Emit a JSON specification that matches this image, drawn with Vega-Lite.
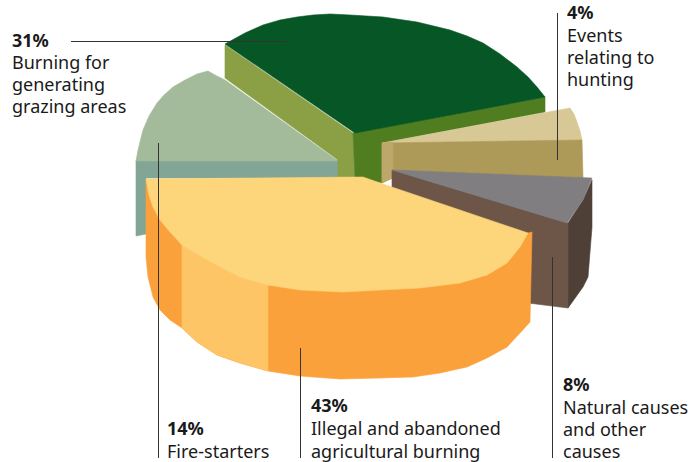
{
  "$schema": "https://vega.github.io/schema/vega-lite/v6.json",
  "width": 690,
  "height": 462,
  "padding": 0,
  "autosize": "none",
  "background": "white",
  "config": {"view": {"stroke": null}},
  "datasets": {
    "faces": [
      {"face":"starters-side","p":[[136,160],[338,160],[338,178],[146,178],[146,234],[136,236]]},
      {"face":"starters-top","p":[[136,161],[138,150],[143,130],[149,116],[157,103],[164,95],[173,87],[185,80],[197,74],[208,71],[215,75],[225,80],[338,161]]},
      {"face":"burning-side-left","p":[[225,45],[353,133],[355,177],[338,177],[338,160],[225,78]]},
      {"face":"burning-side-right","p":[[353,133],[545,97],[545,112],[382,143],[382,183],[355,177]]},
      {"face":"burning-top","p":[[225,44],[245,33],[263,25],[280,20],[297,17],[313,15],[330,14],[350,15],[383,17],[417,22],[450,30],[467,36],[483,43],[500,54],[517,67],[528,77],[537,87],[545,97],[355,133]]},
      {"face":"hunting-top","p":[[382,143],[570,108],[574,114],[577,122],[580,131],[582,140]]},
      {"face":"hunting-side","p":[[382,143],[582,140],[583,178],[392,178],[382,183]]},
      {"face":"hunting-side-edge","p":[[382,143],[393,142],[393,178],[382,183]]},
      {"face":"natural-side-dark","p":[[568,223],[583,200],[592,180],[592,227],[588,277],[583,287],[568,308]]},
      {"face":"natural-side","p":[[392,170],[568,223],[568,308],[528,303],[528,245],[392,195]]},
      {"face":"natural-top","p":[[392,170],[592,178],[583,200],[567,223]]},
      {"face":"illegal-side","p":[[146,180],[146,257],[148,277],[153,297],[160,310],[170,320],[182,328],[197,342],[217,355],[240,363],[268,371],[300,376],[340,379],[380,378],[413,377],[440,373],[467,367],[487,358],[507,347],[520,333],[530,322],[532,232],[528,233],[380,260]]},
      {"face":"illegal-side-light","p":[[182,240],[213,260],[240,275],[268,283],[268,371],[240,363],[217,355],[197,342],[182,328]]},
      {"face":"illegal-top","p":[[146,179],[363,177],[380,183],[528,233],[520,247],[507,263],[487,275],[460,283],[420,288],[380,290],[343,292],[300,290],[268,285],[240,277],[213,263],[197,254],[182,245],[170,232],[160,220],[153,207],[149,195]]}
    ],
    "colours": [
      {"face":"starters-side","fill":"#82a596"},
      {"face":"starters-top","fill":"#a3bb9b"},
      {"face":"burning-side-left","fill":"#8ba045"},
      {"face":"burning-side-right","fill":"#4f7d20"},
      {"face":"burning-top","fill":"#075625"},
      {"face":"hunting-top","fill":"#d8c896"},
      {"face":"hunting-side","fill":"#ae9a58"},
      {"face":"hunting-side-edge","fill":"#bda76a"},
      {"face":"natural-side-dark","fill":"#4e4036"},
      {"face":"natural-side","fill":"#6d5648"},
      {"face":"natural-top","fill":"#807e80"},
      {"face":"illegal-side","fill":"#fba13b"},
      {"face":"illegal-side-light","fill":"#fdc566"},
      {"face":"illegal-top","fill":"#fdd57a"}
    ],
    "leaders": [
      {"cause":"Burning","x":71,"x2":287,"y":41.5,"y2":41.5},
      {"cause":"Hunting","x":557.5,"x2":557.5,"y":13,"y2":160},
      {"cause":"Fire-starters","x":158.5,"x2":158.5,"y":143,"y2":458},
      {"cause":"Illegal","x":300.5,"x2":300.5,"y":348,"y2":458},
      {"cause":"Natural","x":552.5,"x2":552.5,"y":257,"y2":458}
    ],
    "shares": [
      {"share":0.31,"x":12,"y":47},
      {"share":0.04,"x":567,"y":19},
      {"share":0.14,"x":167,"y":435},
      {"share":0.43,"x":311,"y":412},
      {"share":0.08,"x":563,"y":391}
    ],
    "captions": [
      {"text":"Burning for","x":12,"y":69},
      {"text":"generating","x":12,"y":91},
      {"text":"grazing areas","x":12,"y":113},
      {"text":"Events","x":567,"y":42},
      {"text":"relating to","x":567,"y":64},
      {"text":"hunting","x":567,"y":86},
      {"text":"Fire-starters","x":167,"y":458},
      {"text":"Illegal and abandoned","x":311,"y":435},
      {"text":"agricultural burning","x":311,"y":458},
      {"text":"Natural causes","x":563,"y":414},
      {"text":"and other","x":563,"y":436},
      {"text":"causes","x":563,"y":458}
    ]
  },
  "layer": [
    {
      "data": {"name": "faces"},
      "transform": [
        {"flatten": ["p"]},
        {"lookup": "face", "from": {"data": {"name": "colours"}, "key": "face", "fields": ["fill"]}},
        {"window": [{"op": "row_number", "as": "vertex"}], "groupby": ["face"]}
      ],
      "mark": {"type": "line", "interpolate": "linear-closed", "strokeWidth": 0.6},
      "encoding": {
        "x": {"field": "p[0]", "type": "quantitative", "scale": {"domain": [0, 690]}, "axis": null},
        "y": {"field": "p[1]", "type": "quantitative", "scale": {"domain": [462, 0]}, "axis": null},
        "order": {"field": "vertex"},
        "detail": {"field": "face"},
        "fill": {"field": "fill", "type": "nominal", "scale": null},
        "stroke": {"field": "fill", "type": "nominal", "scale": null}
      }
    },
    {
      "data": {"name": "leaders"},
      "mark": {"type": "rule", "color": "#333333", "strokeWidth": 1},
      "encoding": {
        "x": {"field": "x", "type": "quantitative", "scale": {"domain": [0, 690]}, "axis": null},
        "x2": {"field": "x2"},
        "y": {"field": "y", "type": "quantitative", "scale": {"domain": [462, 0]}, "axis": null},
        "y2": {"field": "y2"}
      }
    },
    {
      "data": {"name": "shares"},
      "mark": {"type": "text", "align": "left", "baseline": "alphabetic", "font": "Noto Sans", "fontSize": 18, "fontWeight": "bold", "color": "#1a1a1a"},
      "encoding": {
        "x": {"field": "x", "type": "quantitative", "scale": {"domain": [0, 690]}, "axis": null},
        "y": {"field": "y", "type": "quantitative", "scale": {"domain": [462, 0]}, "axis": null},
        "text": {"field": "share", "type": "quantitative", "format": ".0%"}
      }
    },
    {
      "data": {"name": "captions"},
      "mark": {"type": "text", "align": "left", "baseline": "alphabetic", "font": "Noto Sans", "fontSize": 18, "color": "#1a1a1a"},
      "encoding": {
        "x": {"field": "x", "type": "quantitative", "scale": {"domain": [0, 690]}, "axis": null},
        "y": {"field": "y", "type": "quantitative", "scale": {"domain": [462, 0]}, "axis": null},
        "text": {"field": "text"}
      }
    }
  ]
}
